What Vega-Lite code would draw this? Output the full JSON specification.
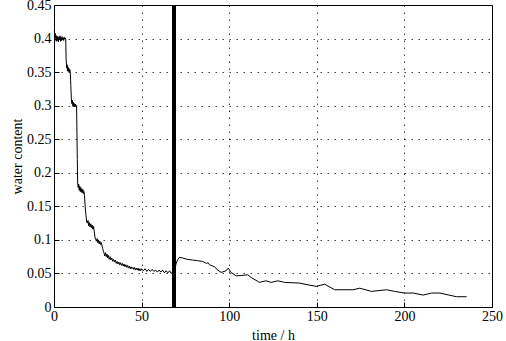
{
  "$schema": "https://vega.github.io/schema/vega-lite/v6.json",
  "autosize": "none",
  "width": 438,
  "height": 302,
  "padding": {"left": 54, "top": 5, "right": 14, "bottom": 34},
  "background": "white",
  "config": {
    "view": {"stroke": "#000", "strokeWidth": 1},
    "font": "Liberation Serif",
    "axis": {
      "labelFont": "Liberation Serif",
      "titleFont": "Liberation Serif",
      "labelFontSize": 14,
      "titleFontSize": 14,
      "titleFontWeight": "normal",
      "labelColor": "#000",
      "titleColor": "#000",
      "domain": false,
      "gridColor": "#000",
      "gridOpacity": 0.75,
      "gridDash": [1.5, 5.5],
      "gridWidth": 1,
      "tickColor": "#000",
      "tickSize": -5,
      "labelFlush": false,
      "labelOverlap": false
    }
  },
  "data": {"values": [
    {"t":0.2,"w":0.412},{"t":0.4,"w":0.398},{"t":0.6,"w":0.408},{"t":0.8,"w":0.401},{"t":1.0,"w":0.405},{"t":1.3,"w":0.396},{"t":1.6,"w":0.404},{"t":1.9,"w":0.397},{"t":2.2,"w":0.403},{"t":2.5,"w":0.395},{"t":2.8,"w":0.402},{"t":3.1,"w":0.398},{"t":3.4,"w":0.404},{"t":3.7,"w":0.396},{"t":4.0,"w":0.402},{"t":4.3,"w":0.397},{"t":4.6,"w":0.403},{"t":4.9,"w":0.398},{"t":5.2,"w":0.401},{"t":5.5,"w":0.397},{"t":5.8,"w":0.402},{"t":6.1,"w":0.399},{"t":6.4,"w":0.401},{"t":6.7,"w":0.399},
    {"t":6.9,"w":0.37},{"t":7.1,"w":0.362},{"t":7.3,"w":0.356},{"t":7.5,"w":0.361},{"t":7.7,"w":0.352},{"t":7.9,"w":0.358},{"t":8.1,"w":0.351},{"t":8.4,"w":0.356},{"t":8.7,"w":0.350},{"t":9.0,"w":0.354},{"t":9.3,"w":0.350},
    {"t":9.6,"w":0.33},{"t":9.9,"w":0.31},{"t":10.2,"w":0.303},{"t":10.5,"w":0.308},{"t":10.8,"w":0.299},{"t":11.1,"w":0.305},{"t":11.4,"w":0.298},{"t":11.7,"w":0.303},{"t":12.0,"w":0.299},{"t":12.3,"w":0.302},{"t":12.6,"w":0.298},{"t":12.9,"w":0.300},
    {"t":13.1,"w":0.26},{"t":13.3,"w":0.22},{"t":13.5,"w":0.185},{"t":13.8,"w":0.178},{"t":14.1,"w":0.183},{"t":14.4,"w":0.174},{"t":14.7,"w":0.180},{"t":15.0,"w":0.172},{"t":15.3,"w":0.178},{"t":15.6,"w":0.171},{"t":15.9,"w":0.176},{"t":16.2,"w":0.170},{"t":16.5,"w":0.175},{"t":16.8,"w":0.169},{"t":17.1,"w":0.172},{"t":17.4,"w":0.166},
    {"t":17.8,"w":0.15},{"t":18.2,"w":0.138},{"t":18.6,"w":0.128},{"t":19.0,"w":0.125},{"t":19.4,"w":0.129},{"t":19.8,"w":0.121},{"t":20.2,"w":0.126},{"t":20.6,"w":0.119},{"t":21.0,"w":0.124},{"t":21.4,"w":0.118},{"t":21.8,"w":0.122},{"t":22.2,"w":0.116},{"t":22.6,"w":0.120},{"t":23.0,"w":0.112},
    {"t":23.4,"w":0.104},{"t":23.8,"w":0.101},{"t":24.2,"w":0.098},{"t":24.6,"w":0.102},{"t":25.0,"w":0.096},{"t":25.4,"w":0.100},{"t":25.8,"w":0.094},{"t":26.2,"w":0.098},{"t":26.6,"w":0.093},{"t":27.0,"w":0.096},{"t":27.4,"w":0.091},
    {"t":27.8,"w":0.087},{"t":28.2,"w":0.083},{"t":28.6,"w":0.080},{"t":29.0,"w":0.076},{"t":29.4,"w":0.081},{"t":29.8,"w":0.075},{"t":30.2,"w":0.079},{"t":30.6,"w":0.073},{"t":31.0,"w":0.077},{"t":31.5,"w":0.071},{"t":32.0,"w":0.075},{"t":32.5,"w":0.070},{"t":33.0,"w":0.073},{"t":33.5,"w":0.068},{"t":34.0,"w":0.071},{"t":34.5,"w":0.067},{"t":35.0,"w":0.070},{"t":35.5,"w":0.065},{"t":36.0,"w":0.068},{"t":36.5,"w":0.064},{"t":37.0,"w":0.067},{"t":37.5,"w":0.063},{"t":38.0,"w":0.066},{"t":38.5,"w":0.062},{"t":39.0,"w":0.065},{"t":39.5,"w":0.061},{"t":40.0,"w":0.064},{"t":40.5,"w":0.060},{"t":41.0,"w":0.063},{"t":41.5,"w":0.059},{"t":42.0,"w":0.062},{"t":42.5,"w":0.058},{"t":43.0,"w":0.061},{"t":43.5,"w":0.057},{"t":44.0,"w":0.060},{"t":44.5,"w":0.057},{"t":45.0,"w":0.059},{"t":45.5,"w":0.056},{"t":46.0,"w":0.059},{"t":46.5,"w":0.055},{"t":47.0,"w":0.058},{"t":47.5,"w":0.055},{"t":48.0,"w":0.058},{"t":48.5,"w":0.054},{"t":49.0,"w":0.057},{"t":49.5,"w":0.054},{"t":50.0,"w":0.057},{"t":51,"w":0.054},{"t":52,"w":0.057},{"t":53,"w":0.053},{"t":54,"w":0.056},{"t":55,"w":0.053},{"t":56,"w":0.056},{"t":57,"w":0.053},{"t":58,"w":0.055},{"t":59,"w":0.052},{"t":60,"w":0.055},{"t":61,"w":0.052},{"t":62,"w":0.055},{"t":63,"w":0.051},{"t":64,"w":0.054},{"t":65,"w":0.051},{"t":66,"w":0.054},{"t":67,"w":0.050},{"t":68,"w":0.053},{"t":68.4,"w":0.051},
    {"t":69.0,"w":0.055},{"t":69.6,"w":0.064},{"t":70.5,"w":0.070},{"t":71.5,"w":0.074},{"t":73.4,"w":0.073},{"t":76,"w":0.071},{"t":79.1,"w":0.070},{"t":82,"w":0.069},{"t":84.8,"w":0.068},{"t":87,"w":0.065},{"t":88,"w":0.066},{"t":88.7,"w":0.063},{"t":91.5,"w":0.060},{"t":93.5,"w":0.055},{"t":95.4,"w":0.0515},{"t":98.2,"w":0.054},{"t":99.5,"w":0.058},{"t":101,"w":0.0515},{"t":104,"w":0.0465},{"t":107,"w":0.047},{"t":110.6,"w":0.048},{"t":112.5,"w":0.044},{"t":117.3,"w":0.0367},{"t":121,"w":0.039},{"t":124,"w":0.0367},{"t":127.8,"w":0.039},{"t":131.6,"w":0.0367},{"t":140.2,"w":0.0356},{"t":145,"w":0.033},{"t":149.7,"w":0.0307},{"t":154.5,"w":0.034},{"t":160.2,"w":0.0257},{"t":170.7,"w":0.0257},{"t":174.5,"w":0.028},{"t":181.2,"w":0.0233},{"t":189.8,"w":0.0257},{"t":195,"w":0.023},{"t":200.2,"w":0.0208},{"t":205,"w":0.0208},{"t":210.7,"w":0.0178},{"t":215.5,"w":0.0208},{"t":220.3,"w":0.0208},{"t":225,"w":0.018},{"t":229.8,"w":0.0153},{"t":235.5,"w":0.0153}
  ]},
  "layer": [
    {
      "mark": {"type": "line", "color": "#000", "strokeWidth": 1},
      "encoding": {
        "x": {"field": "t", "type": "quantitative", "scale": {"domain": [0, 250], "nice": false}, "axis": {"title": "time / h", "values": [0, 50, 100, 150, 200, 250], "labelFont": "Liberation Serif", "labelFontSize": 14, "labelPadding": 7, "titlePadding": 5, "titleFont": "Liberation Serif", "titleFontSize": 14}},
        "y": {"field": "w", "type": "quantitative", "scale": {"domain": [0, 0.45], "nice": false}, "axis": {"title": "water content", "values": [0, 0.05, 0.1, 0.15, 0.2, 0.25, 0.3, 0.35, 0.4, 0.45], "format": "~g", "labelFont": "Liberation Serif", "labelFontSize": 14, "labelPadding": 8, "titlePadding": 2, "titleFont": "Liberation Serif", "titleFontSize": 14}}
      }
    },
    {
      "mark": {"type": "rule", "color": "#000", "strokeWidth": 3},
      "encoding": {"x": {"datum": 68.5}}
    }
  ]
}
